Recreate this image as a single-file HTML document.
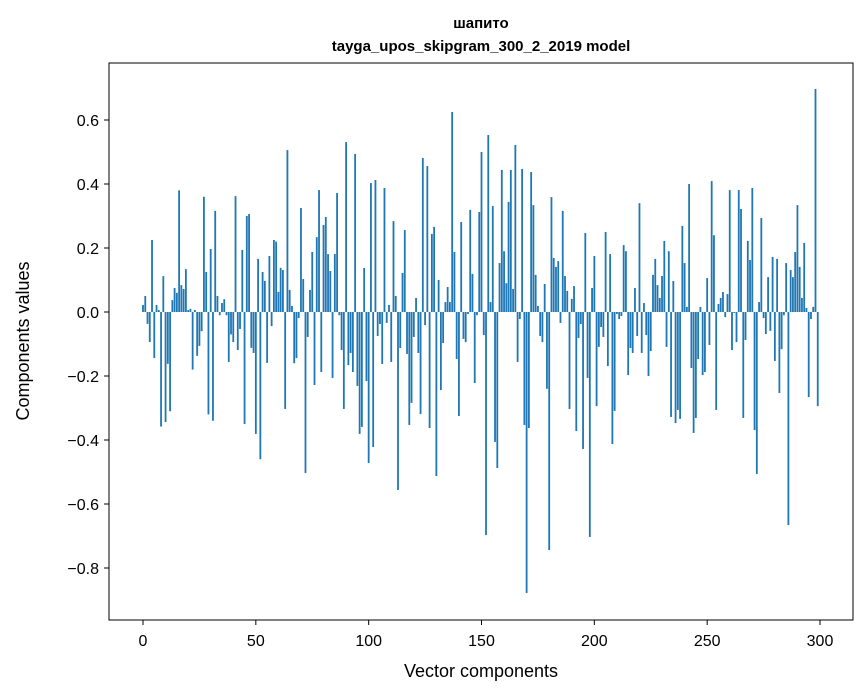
<!DOCTYPE html>
<html><head><meta charset="utf-8">
<style>
html,body{margin:0;padding:0;background:#fff;}
svg{display:block;font-family:"Liberation Sans","DejaVu Sans",sans-serif;}
</style></head>
<body>
<svg id="chart" width="867" height="696" viewBox="0 0 867 696" xmlns="http://www.w3.org/2000/svg">
<rect width="867" height="696" fill="#fff"/>
<text x="481" y="28" text-anchor="middle" font-size="15" font-weight="bold">шапито</text>
<text x="481" y="51" text-anchor="middle" font-size="15" font-weight="bold">tayga_upos_skipgram_300_2_2019 model</text>
<g id="bars"></g>
<g id="xticks"></g>
<g id="yticks"></g>
<rect x="109" y="63" width="744" height="557" fill="none" stroke="#000" stroke-width="1"/>
<text x="481" y="677" text-anchor="middle" font-size="18">Vector components</text>
<text transform="translate(29,341) rotate(-90)" text-anchor="middle" font-size="18">Components values</text>
</svg>
<script>
const values = [0.022,0.05,-0.037,-0.094,0.225,-0.144,0.022,0.006,-0.358,0.112,
-0.344,-0.162,-0.31,0.037,0.075,0.06,0.38,0.084,0.072,0.134,
0.006,0.01,-0.18,0.006,-0.137,-0.106,-0.06,0.36,0.125,-0.32,
0.197,-0.34,0.316,0.05,-0.01,0.028,0.04,-0.01,-0.156,-0.07,
-0.094,0.362,-0.119,-0.053,0.194,-0.35,0.3,0.306,-0.112,-0.128,
-0.381,0.166,-0.46,0.125,0.097,-0.159,0.175,-0.044,0.225,0.22,
0.063,0.138,0.131,-0.303,0.506,0.069,0.019,-0.16,-0.144,-0.019,
0.325,0.103,-0.503,-0.078,0.069,0.1875,-0.228,0.234,0.381,-0.1875,
0.272,0.297,0.181,0.128,-0.206,0.181,0.372,-0.01,-0.119,-0.303,
0.531,-0.166,-0.128,-0.1875,0.494,-0.231,-0.381,-0.359,0.1375,-0.216,
-0.472,0.403,-0.422,0.4125,-0.075,-0.0375,-0.1625,0.3875,-0.034,0.022,
-0.156,0.284,0.05,-0.556,-0.1125,0.122,0.256,-0.131,-0.353,-0.284,
-0.078,0.044,-0.128,-0.319,0.481,-0.041,0.456,-0.3625,0.244,0.266,
-0.5125,0.1,-0.244,-0.097,0.031,0.078,0.031,0.625,0.1875,-0.147,
-0.325,0.281,-0.084,-0.094,-0.006,0.319,0.119,-0.222,-0.01,0.3125,
0.5,-0.072,-0.697,0.553,0.031,0.331,-0.406,-0.4875,0.153,0.444,
0.19,0.09,0.344,0.444,0.072,0.522,-0.156,-0.022,0.447,-0.353,
-0.878,-0.3625,0.4375,0.334,0.116,0.019,-0.075,-0.094,0.0875,-0.24,
-0.744,0.359,0.169,0.141,0.159,-0.034,0.316,0.1125,0.066,-0.303,
0.041,0.081,-0.372,-0.081,-0.0375,-0.428,0.247,-0.206,-0.703,0.075,
0.175,-0.294,-0.109,-0.047,-0.078,0.25,-0.169,0.181,-0.4125,-0.309,
-0.006,-0.022,-0.0125,0.209,0.19,-0.197,-0.1125,-0.128,0.075,-0.075,
0.34,-0.128,0.028,-0.072,-0.2,-0.122,0.116,0.166,0.084,0.044,
0.1125,0.222,-0.109,0.19,-0.328,0.097,-0.347,-0.306,-0.334,0.269,
0.153,0.016,0.4,-0.175,-0.378,-0.331,-0.147,0.016,-0.197,-0.1875,
0.106,-0.103,0.409,0.24,-0.306,0.025,0.044,0.0625,-0.016,0.056,
0.381,-0.119,-0.003,-0.094,0.381,0.322,-0.331,-0.0875,0.222,0.1625,
0.3875,-0.369,-0.506,0.031,0.294,-0.019,-0.069,0.109,-0.059,0.172,
-0.153,0.166,-0.253,-0.116,-0.01,0.153,-0.666,0.131,0.109,0.1875,
0.334,0.141,0.044,0.216,0.0125,-0.266,-0.022,0.016,0.697,-0.294];
const xTicks = [0,50,100,150,200,250,300];
const yTicks = [-0.8,-0.6,-0.4,-0.2,0.0,0.2,0.4,0.6];
const yTickLabels = ["\u22120.8","\u22120.6","\u22120.4","\u22120.2","0.0","0.2","0.4","0.6"];

const X0=143, XS=(820-143)/300, Y0=312, YS=320;
function xs(v){return X0+v*XS;}
function ys(v){return Y0-v*YS;}
const NS="http://www.w3.org/2000/svg";
const bars=document.getElementById('bars');
values.forEach((v,i)=>{
  const r=document.createElementNS(NS,'rect');
  
  
  const w=0.8*XS;
  r.setAttribute('x',xs(i)-w/2);
  r.setAttribute('width',w);
  r.setAttribute('y',Math.min(ys(v),ys(0)));
  r.setAttribute('height',Math.max(Math.abs(ys(v)-ys(0)),0.3));
  r.setAttribute('fill','#1f77b4');
  bars.appendChild(r);
});
const xg=document.getElementById('xticks');
xTicks.forEach(t=>{
  const l=document.createElementNS(NS,'line');
  
  
  l.setAttribute('x1',xs(t));l.setAttribute('x2',xs(t));
  l.setAttribute('y1',620);l.setAttribute('y2',625);
  l.setAttribute('stroke','#000');
  xg.appendChild(l);
  const tx=document.createElementNS(NS,'text');
  
  
  tx.setAttribute('x',xs(t));tx.setAttribute('y',646);
  tx.setAttribute('text-anchor','middle');tx.setAttribute('font-size','16');
  tx.textContent=t;
  xg.appendChild(tx);
});
const yg=document.getElementById('yticks');
yTicks.forEach((t,k)=>{
  const l=document.createElementNS(NS,'line');
  
  
  l.setAttribute('x1',104);l.setAttribute('x2',109);
  l.setAttribute('y1',ys(t));l.setAttribute('y2',ys(t));
  l.setAttribute('stroke','#000');
  yg.appendChild(l);
  const tx=document.createElementNS(NS,'text');
  
  
  tx.setAttribute('x',99);tx.setAttribute('y',ys(t)+6);
  tx.setAttribute('text-anchor','end');tx.setAttribute('font-size','16');
  tx.textContent=yTickLabels[k];
  yg.appendChild(tx);
});
</script>
</body></html>
